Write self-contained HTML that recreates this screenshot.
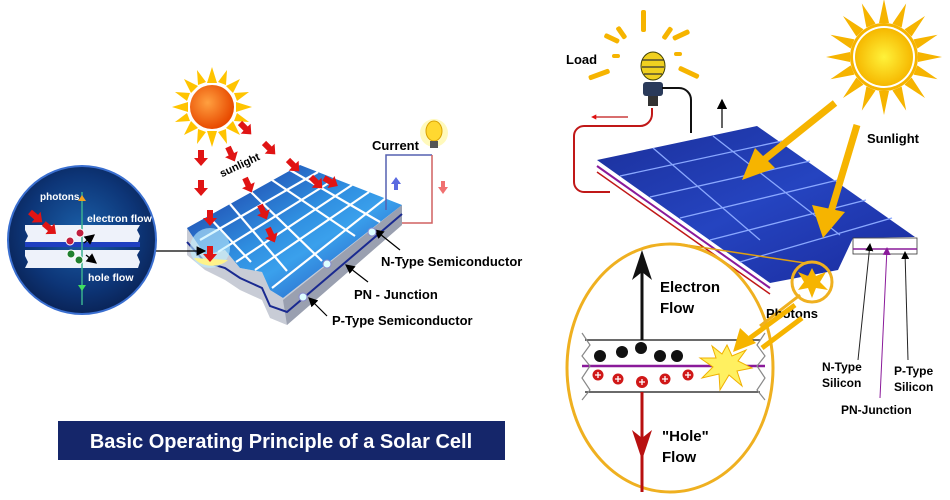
<!DOCTYPE html>
<html><head><meta charset="utf-8"><style>
html,body{margin:0;padding:0;background:#fff}
svg{display:block}
text{font-family:"Liberation Sans",Arial,sans-serif;font-weight:bold}
</style></head><body>
<svg width="950" height="500" viewBox="0 0 950 500" xmlns="http://www.w3.org/2000/svg">
<defs>
<radialGradient id="circ" cx="50%" cy="45%" r="55%"><stop offset="0" stop-color="#1a5fa8"/><stop offset="0.7" stop-color="#0d3577"/><stop offset="1" stop-color="#0a2458"/></radialGradient>
<linearGradient id="pan" x1="0" y1="0" x2="1" y2="1"><stop offset="0" stop-color="#1a2f9a"/><stop offset="0.45" stop-color="#2f8ee0"/><stop offset="0.6" stop-color="#3aa0ec"/><stop offset="1" stop-color="#1f3fb0"/></linearGradient>
<linearGradient id="pan2" x1="0" y1="0" x2="1" y2="1"><stop offset="0" stop-color="#1b2f9a"/><stop offset="0.5" stop-color="#2544c0"/><stop offset="1" stop-color="#1a2a9c"/></linearGradient>
<radialGradient id="sunL" cx="40%" cy="40%" r="60%"><stop offset="0" stop-color="#ffa040"/><stop offset="1" stop-color="#e84a00"/></radialGradient>
<radialGradient id="sunR" cx="50%" cy="50%" r="50%"><stop offset="0" stop-color="#fff23a"/><stop offset="1" stop-color="#f6b800"/></radialGradient>
<marker id="ab" markerWidth="8" markerHeight="8" refX="7" refY="4" orient="auto"><path d="M0,0 L8,4 L0,8 z" fill="#000"/></marker>
<marker id="ap" markerWidth="8" markerHeight="8" refX="7" refY="4" orient="auto"><path d="M0,0 L8,4 L0,8 z" fill="#8a1a9a"/></marker>
<marker id="ra" markerWidth="4" markerHeight="4" refX="1" refY="2" orient="auto"><path d="M0,0 L4,2 L0,4 z" fill="#e01010"/></marker>
</defs>

<!-- LEFT: sun -->
<g transform="translate(212,107)">
<g fill="#ffc400">
<polygon points="0,-40 5,-24 -5,-24"/><polygon points="0,40 5,24 -5,24"/><polygon points="-40,0 -24,5 -24,-5"/><polygon points="40,0 24,5 24,-5"/>
<polygon points="28,-28 21,-14 14,-21"/><polygon points="-28,-28 -21,-14 -14,-21"/><polygon points="28,28 21,14 14,21"/><polygon points="-28,28 -21,14 -14,21"/>
<polygon points="15,-37 14,-22 6,-25"/><polygon points="-15,-37 -14,-22 -6,-25"/><polygon points="15,37 14,22 6,25"/><polygon points="-15,37 -14,22 -6,25"/>
<polygon points="37,-15 22,-14 25,-6"/><polygon points="-37,-15 -22,-14 -25,-6"/><polygon points="37,15 22,14 25,6"/><polygon points="-37,15 -22,14 -25,6"/>
</g>
<circle r="22" fill="url(#sunL)"/>
</g>

<!-- left panel -->
<polygon points="187,228 187,255 205,270 225,280 240,290 262,300 270,318 287,325 402,225 402,205 283,298 270,290 262,272 240,268 225,250 205,255" fill="#c8ccd6"/>
<polygon points="402,205 402,225 287,325 283,300" fill="#9aa0b0"/>
<polyline points="187,242 205,262 225,268 240,278 262,288 270,306 287,312 402,214" fill="none" stroke="#1a2a90" stroke-width="2"/>
<polygon points="187,228 300,165 402,205 283,298 270,290 262,272 240,268 225,250 205,255" fill="url(#pan)"/>
<g stroke="#fff" stroke-width="2.2">
<line x1="208" y1="216" x2="251" y2="262"/><line x1="230" y1="204" x2="287" y2="271"/><line x1="251" y1="192" x2="322" y2="261"/><line x1="272" y1="180" x2="355" y2="236"/><line x1="290" y1="170" x2="380" y2="222"/>
<line x1="200" y1="240" x2="318" y2="172"/><line x1="218" y1="252" x2="335" y2="179"/><line x1="236" y1="262" x2="352" y2="185"/><line x1="255" y1="270" x2="369" y2="192"/><line x1="272" y1="288" x2="386" y2="198"/>
</g>
<circle cx="210" cy="248" r="20" fill="#bff0ff" opacity="0.6"/>
<path d="M194,258 a20,14 0 0 0 34,2 z" fill="#fff38a"/>
<!-- red photon arrows -->
<g fill="#e01414">
<g transform="translate(201,150)"><path d="M-3,0 h6 v8 h4 l-7,8 l-7,-8 h4z"/></g>
<g transform="translate(201,180)"><path d="M-3,0 h6 v8 h4 l-7,8 l-7,-8 h4z"/></g>
<g transform="translate(210,210)"><path d="M-3,0 h6 v8 h4 l-7,8 l-7,-8 h4z"/></g>
<g transform="translate(210,246)"><path d="M-3,0 h6 v8 h4 l-7,8 l-7,-8 h4z"/></g>
<g transform="translate(228,147) rotate(-25)"><path d="M-3,0 h6 v8 h4 l-7,8 l-7,-8 h4z"/></g>
<g transform="translate(245,178) rotate(-25)"><path d="M-3,0 h6 v8 h4 l-7,8 l-7,-8 h4z"/></g>
<g transform="translate(260,205) rotate(-25)"><path d="M-3,0 h6 v8 h4 l-7,8 l-7,-8 h4z"/></g>
<g transform="translate(268,228) rotate(-25)"><path d="M-3,0 h6 v8 h4 l-7,8 l-7,-8 h4z"/></g>
<g transform="translate(240,123) rotate(-45)"><path d="M-3,0 h6 v8 h4 l-7,8 l-7,-8 h4z"/></g>
<g transform="translate(264,143) rotate(-45)"><path d="M-3,0 h6 v8 h4 l-7,8 l-7,-8 h4z"/></g>
<g transform="translate(288,160) rotate(-45)"><path d="M-3,0 h6 v8 h4 l-7,8 l-7,-8 h4z"/></g>
<g transform="translate(311,177) rotate(-45)"><path d="M-3,0 h6 v8 h4 l-7,8 l-7,-8 h4z"/></g>
<g transform="translate(324,178) rotate(-60)"><path d="M-3,0 h6 v8 h4 l-7,8 l-7,-8 h4z"/></g>
</g>
<text x="218" y="172" font-size="11" transform="rotate(-25 232 166)">sunlight</text>
<!-- circuit -->
<polyline points="386,210 386,155 432,155" fill="none" stroke="#5560b0" stroke-width="1.5"/>
<polyline points="432,155 432,223 402,223" fill="none" stroke="#d06060" stroke-width="1.5"/>
<path d="M396,177 l-5,7 h3 v6 h4 v-6 h3z" fill="#5a6ae0"/>
<path d="M441,181 h4 v6 h3 l-5,7 l-5,-7 h3z" fill="#f07070"/>
<circle cx="434" cy="133" r="14" fill="#fff6a0" opacity="0.7"/>
<ellipse cx="434" cy="131" rx="8" ry="10" fill="#ffd830" stroke="#d8a000"/>
<rect x="430" y="141" width="8" height="7" fill="#555"/>
<text x="372" y="150" font-size="13">Current</text>
<!-- labels -->
<g stroke="#000" stroke-width="1.2" fill="none">
<line x1="400" y1="250" x2="375" y2="230" marker-end="url(#ab)"/>
<line x1="368" y1="282" x2="346" y2="265" marker-end="url(#ab)"/>
<line x1="327" y1="316" x2="309" y2="298" marker-end="url(#ab)"/>
</g>
<circle cx="372" cy="232" r="4" fill="#dff" stroke="#88c"/>
<circle cx="327" cy="264" r="4" fill="#dff" stroke="#88c"/>
<circle cx="303" cy="297" r="4" fill="#dff" stroke="#88c"/>
<text x="381" y="266" font-size="13">N-Type Semiconductor</text>
<text x="354" y="299" font-size="13">PN - Junction</text>
<text x="332" y="325" font-size="13">P-Type Semiconductor</text>
<!-- inset circle -->
<line x1="152" y1="251" x2="205" y2="251" stroke="#000" stroke-width="1.2" marker-end="url(#ab)"/>
<circle cx="82" cy="240" r="74" fill="url(#circ)" stroke="#3a6fd0" stroke-width="2"/>
<polygon points="25,225 140,225 137,230 140,236 138,242 25,242 28,236 25,230" fill="#eef2fa"/>
<rect x="25" y="242" width="115" height="5" fill="#1f3fc0"/>
<polygon points="25,250 140,250 137,255 140,262 138,268 25,268 28,262 25,256" fill="#eef2fa"/>
<line x1="82" y1="192" x2="82" y2="305" stroke="#3ab090" stroke-width="1.5"/>
<path d="M82,195 l-4,6 h8z" fill="#f0a020"/><path d="M82,291 l-4,-6 h8z" fill="#40e060"/>
<g fill="#e01414"><g transform="translate(30,212) rotate(-50)"><path d="M-3,0 h6 v8 h4 l-7,8 l-7,-8 h4z"/><path d="M-3,18 h6 v8 h4 l-7,8 l-7,-8 h4z"/></g></g>
<circle cx="70" cy="241" r="4" fill="#c02040" stroke="#fff"/><circle cx="80" cy="233" r="4" fill="#c02040" stroke="#fff"/>
<circle cx="71" cy="254" r="4" fill="#208030" stroke="#fff"/><circle cx="79" cy="260" r="4" fill="#208030" stroke="#fff"/>
<line x1="84" y1="243" x2="94" y2="235" stroke="#000" stroke-width="1.3" marker-end="url(#ab)"/>
<line x1="86" y1="255" x2="96" y2="263" stroke="#000" stroke-width="1.3" marker-end="url(#ab)"/>
<text x="40" y="200" font-size="10" fill="#fff">photons</text>
<text x="87" y="222" font-size="10.5" fill="#fff">electron flow</text>
<text x="88" y="281" font-size="10.5" fill="#fff">hole flow</text>

<!-- title -->
<rect x="58" y="421" width="447" height="39" fill="#15266a"/>
<text x="281" y="448" font-size="20" fill="#fff" text-anchor="middle" font-weight="bold">Basic Operating Principle of a Solar Cell</text>

<!-- RIGHT: sun -->
<g transform="translate(884,57)" fill="#f6b400">
<g id="rr"><polygon points="-5,-34 5,-34 0,-58"/></g>
<use href="#rr" transform="rotate(22.5)"/><use href="#rr" transform="rotate(45)"/><use href="#rr" transform="rotate(67.5)"/><use href="#rr" transform="rotate(90)"/><use href="#rr" transform="rotate(112.5)"/><use href="#rr" transform="rotate(135)"/><use href="#rr" transform="rotate(157.5)"/><use href="#rr" transform="rotate(180)"/><use href="#rr" transform="rotate(202.5)"/><use href="#rr" transform="rotate(225)"/><use href="#rr" transform="rotate(247.5)"/><use href="#rr" transform="rotate(270)"/><use href="#rr" transform="rotate(292.5)"/><use href="#rr" transform="rotate(315)"/><use href="#rr" transform="rotate(337.5)"/>
<circle r="34" fill="#f6b400"/><circle r="31" fill="#fff"/><circle r="29" fill="url(#sunR)"/>
</g>
<!-- load bulb -->
<g fill="#f6b400">
<rect x="641" y="10" width="5" height="22" rx="2"/>
<rect x="619" y="26" width="5" height="14" rx="2" transform="rotate(-35 621 33)"/>
<rect x="665" y="26" width="5" height="14" rx="2" transform="rotate(35 667 33)"/>
<rect x="604" y="36" width="16" height="5" rx="2" transform="rotate(25 612 38)"/>
<rect x="672" y="33" width="18" height="5" rx="2" transform="rotate(-25 680 35)"/>
<rect x="588" y="72" width="22" height="5" rx="2" transform="rotate(-20 599 74)"/>
<rect x="678" y="70" width="22" height="5" rx="2" transform="rotate(25 689 72)"/>
<rect x="612" y="54" width="8" height="4" rx="2"/><rect x="674" y="52" width="8" height="4" rx="2"/>
</g>
<ellipse cx="653" cy="66" rx="12" ry="14" fill="#f0d020" stroke="#404000"/>
<path d="M642,60 h22 M642,67 h22 M644,74 h18" stroke="#333" stroke-width="1.3"/>
<rect x="643" y="82" width="20" height="14" rx="3" fill="#2a3a5a"/><rect x="648" y="96" width="10" height="10" fill="#333"/>
<text x="566" y="64" font-size="13">Load</text>
<path d="M662,88 h17 a12,12 0 0 1 12,12 v33" fill="none" stroke="#111" stroke-width="2"/>
<path d="M652,108 v6 a12,12 0 0 1 -12,12 h-56 a10,10 0 0 0 -10,10 v46 a10,10 0 0 0 10,10 h26" fill="none" stroke="#c01818" stroke-width="2"/>
<line x1="628" y1="117" x2="595" y2="117" stroke="#c01818" stroke-width="1.3" marker-end="url(#ra)"/>
<line x1="722" y1="128" x2="722" y2="100" stroke="#111" stroke-width="1.3" marker-end="url(#ab)"/>
<!-- right panel -->
<polygon points="597,160 597,172 770,292 840,285 855,254 917,254 917,238 770,283" fill="#fff"/>
<polyline points="597,166 770,288" fill="none" stroke="#8a1a9a" stroke-width="2"/>
<polyline points="597,172 770,294" fill="none" stroke="#c01818" stroke-width="1.5"/>
<polygon points="597,160 757,126 915,237 853,238 838,270 770,283" fill="url(#pan2)"/>
<g stroke="#8aa8ff" stroke-width="1.3">
<line x1="653" y1="148" x2="760" y2="240"/><line x1="713" y1="136" x2="840" y2="235"/>
<line x1="620" y1="176" x2="782" y2="141"/><line x1="650" y1="197" x2="810" y2="161"/><line x1="680" y1="218" x2="838" y2="180"/><line x1="710" y1="240" x2="866" y2="200"/><line x1="740" y1="262" x2="892" y2="218"/>
</g>
<rect x="853" y="238" width="64" height="16" fill="#fff" stroke="#333" stroke-width="0.8"/>
<line x1="853" y1="249" x2="917" y2="249" stroke="#8a1a9a" stroke-width="1.5"/>
<!-- yellow arrows -->
<g stroke="#f6b400" stroke-width="7" fill="#f6b400">
<line x1="835" y1="103" x2="760" y2="163"/>
<line x1="857" y1="125" x2="830" y2="215"/>
</g>
<polygon points="742,180 755,148 775,168" fill="#f6b400"/>
<polygon points="823,238 812,205 845,212" fill="#f6b400"/>
<text x="867" y="143" font-size="13">Sunlight</text>
<!-- zoom ellipse -->
<line x1="680" y1="244" x2="805" y2="263" stroke="#e0a010" stroke-width="1.5"/>
<ellipse cx="670" cy="368" rx="103" ry="124" fill="#fff" stroke="#efb020" stroke-width="3"/>
<line x1="760" y1="326" x2="800" y2="295" stroke="#efb020" stroke-width="3"/>
<circle cx="812" cy="282" r="20" fill="none" stroke="#efb020" stroke-width="3"/>
<polygon points="812,268 816,276 826,272 820,282 828,290 816,288 812,298 808,288 798,290 804,282 798,272 808,276" fill="#f6b400"/>
<text x="766" y="318" font-size="13">Photons</text>
<!-- band -->
<line x1="585" y1="340" x2="760" y2="340" stroke="#111" stroke-width="1.2"/>
<line x1="585" y1="392" x2="760" y2="392" stroke="#111" stroke-width="1.2"/>
<line x1="582" y1="366" x2="765" y2="366" stroke="#8a1a9a" stroke-width="2.5"/>
<polyline points="582,333 590,345 582,356 590,366 582,378 590,390 582,400" fill="none" stroke="#888" stroke-width="1.2"/>
<polyline points="765,333 757,345 765,356 757,366 765,378 757,390 765,400" fill="none" stroke="#888" stroke-width="1.2"/>
<g fill="#111"><circle cx="600" cy="356" r="6"/><circle cx="622" cy="352" r="6"/><circle cx="641" cy="348" r="6"/><circle cx="660" cy="356" r="6"/><circle cx="677" cy="356" r="6"/></g>
<g fill="#d01818"><circle cx="598" cy="375" r="5.5"/><circle cx="618" cy="379" r="5.5"/><circle cx="642" cy="382" r="6"/><circle cx="665" cy="379" r="5.5"/><circle cx="688" cy="375" r="5.5"/></g>
<g stroke="#fff" stroke-width="1.3"><path d="M595,375 h6 M598,372 v6 M615,379 h6 M618,376 v6 M639,382 h6 M642,379 v6 M662,379 h6 M665,376 v6 M685,375 h6 M688,372 v6"/></g>
<polygon points="727,345 732,356 746,350 738,361 752,368 737,371 742,386 729,375 720,390 719,374 702,378 713,367 700,358 716,358 712,346 722,354" fill="#fff060" stroke="#f0b000"/>
<g stroke="#f6b400" stroke-width="5" fill="#f6b400"><line x1="795" y1="305" x2="750" y2="338"/><line x1="802" y1="318" x2="762" y2="348"/></g>
<polygon points="733,352 740,328 756,343" fill="#f6b400"/>
<line x1="642" y1="340" x2="642" y2="265" stroke="#111" stroke-width="3"/>
<polygon points="642,250 632,280 642,272 652,280" fill="#111"/>
<line x1="642" y1="392" x2="642" y2="492" stroke="#b81010" stroke-width="3"/>
<polygon points="642,460 632,430 642,438 652,430" fill="#b81010"/>
<text x="660" y="292" font-size="15">Electron</text>
<text x="660" y="313" font-size="15">Flow</text>
<text x="662" y="441" font-size="15">"Hole"</text>
<text x="662" y="462" font-size="15">Flow</text>
<!-- right labels -->
<line x1="858" y1="360" x2="870" y2="244" stroke="#222" stroke-width="1" marker-end="url(#ab)"/>
<line x1="908" y1="360" x2="905" y2="252" stroke="#222" stroke-width="1" marker-end="url(#ab)"/>
<line x1="880" y1="398" x2="887" y2="248" stroke="#8a1a9a" stroke-width="1" marker-end="url(#ap)"/>
<text x="822" y="371" font-size="12" font-weight="normal" style="font-weight:bold">N-Type</text>
<text x="822" y="387" font-size="12">Silicon</text>
<text x="894" y="375" font-size="12">P-Type</text>
<text x="894" y="391" font-size="12">Silicon</text>
<text x="841" y="414" font-size="12">PN-Junction</text>
</svg>
</body></html>
